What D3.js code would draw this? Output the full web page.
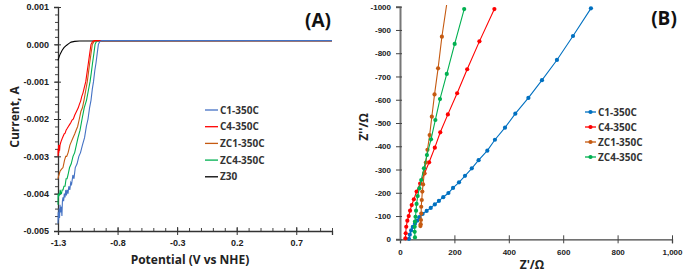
<!DOCTYPE html>
<html>
<head>
<meta charset="utf-8">
<script src="https://cdn.jsdelivr.net/npm/d3@7"></script>
<style>
  body { margin: 0; background: #fff; }
  svg { font-family: "Open Sans", "DejaVu Sans", sans-serif; }
  .tick text { font-weight: 700; fill: #222; }
</style>
</head>
<body>
<div id="chart"></div>
<script>
// ---- panel A: LSV (potential V vs NHE, current A) ----
const lsvNames = ["C1-350C", "C4-350C", "ZC1-350C", "ZC4-350C", "Z30"];
const lsvColors = ["#4472C4", "#FF0000", "#C55A11", "#00B050", "#000000"];

const lsvC1 = [[-1.3,-0.0048],[-1.298,-0.0045],[-1.295,-0.0047],[-1.291,-0.0044],[-1.287,-0.00465],[-1.283,-0.0043],[-1.279,-0.0045],
  [-1.275,-0.00435],[-1.271,-0.0044],[-1.267,-0.0046],[-1.263,-0.0042],[-1.258,-0.0041],[-1.253,-0.0042],[-1.247,-0.0040],[-1.241,-0.0041],
  [-1.235,-0.0039],[-1.229,-0.00405],[-1.223,-0.0039],[-1.216,-0.0040],[-1.209,-0.0038],[-1.201,-0.0039],[-1.193,-0.0037],[-1.186,-0.00375],
  [-1.175,-0.0035],[-1.166,-0.0036],[-1.155,-0.0033],[-1.14,-0.0032],[-1.125,-0.0030],[-1.111,-0.0029],[-1.095,-0.0027],[-1.077,-0.0025],
  [-1.062,-0.0022],[-1.048,-0.0020],[-1.035,-0.0017],[-1.023,-0.0015],[-1.012,-0.0012],[-1.002,-0.0010],[-0.991,-0.0007],[-0.981,-0.0005],
  [-0.971,-0.00025],[-0.961,0],[-0.95,0.00007],[-0.933,0.0001],[1.0,0.0001]];
const lsvC4 = [[-1.3,-0.0030],[-1.299,-0.0028],[-1.297,-0.00295],[-1.295,-0.0027],[-1.293,-0.0029],[-1.29,-0.0027],[-1.287,-0.00285],
  [-1.283,-0.0027],[-1.279,-0.00265],[-1.274,-0.0026],[-1.268,-0.00255],[-1.262,-0.0025],[-1.255,-0.00245],[-1.248,-0.0024],[-1.24,-0.00238],
  [-1.232,-0.0023],[-1.222,-0.00225],[-1.213,-0.0022],[-1.203,-0.00215],[-1.193,-0.0021],[-1.182,-0.00203],[-1.171,-0.0020],[-1.16,-0.0019],
  [-1.148,-0.00182],[-1.138,-0.00175],[-1.13,-0.0017],[-1.12,-0.0016],[-1.11,-0.00152],[-1.101,-0.0014],[-1.09,-0.0013],[-1.079,-0.00115],
  [-1.067,-0.0010],[-1.056,-0.00075],[-1.045,-0.0005],[-1.034,-0.00025],[-1.023,0],[-1.01,0.00007],[-0.995,0.0001],[1.0,0.0001]];
const lsvZC1 = [[-1.3,-0.0036],[-1.297,-0.00355],[-1.292,-0.0035],[-1.283,-0.0034],[-1.272,-0.00335],[-1.258,-0.0033],[-1.245,-0.0031],
  [-1.235,-0.0030],[-1.227,-0.0030],[-1.215,-0.0029],[-1.2,-0.0027],[-1.187,-0.0026],[-1.174,-0.0025],[-1.16,-0.0024],[-1.148,-0.0023],
  [-1.135,-0.0022],[-1.121,-0.0020],[-1.108,-0.0018],[-1.095,-0.0017],[-1.082,-0.0015],[-1.068,-0.00125],[-1.054,-0.0010],[-1.044,-0.00075],
  [-1.034,-0.0005],[-1.023,-0.00025],[-1.012,0],[-0.998,0.00007],[-0.983,0.0001],[1.0,0.0001]];
const lsvZC4 = [[-1.3,-0.0043],[-1.299,-0.0040],[-1.296,-0.0041],[-1.292,-0.0040],[-1.287,-0.00405],[-1.282,-0.0039],[-1.276,-0.0040],
  [-1.271,-0.0040],[-1.265,-0.0039],[-1.258,-0.0039],[-1.25,-0.0038],[-1.241,-0.0038],[-1.232,-0.0036],[-1.224,-0.0036],[-1.216,-0.0035],
  [-1.203,-0.0033],[-1.189,-0.0032],[-1.174,-0.0030],[-1.16,-0.0029],[-1.146,-0.0027],[-1.132,-0.0025],[-1.115,-0.0023],[-1.098,-0.0020],
  [-1.08,-0.0017],[-1.061,-0.0015],[-1.046,-0.00125],[-1.031,-0.0010],[-1.02,-0.00075],[-1.01,-0.0005],[-0.999,-0.00025],[-0.989,0],
  [-0.978,0.00007],[-0.966,0.0001],[1.0,0.0001]];
const lsvZ30 = [[-1.3,-0.00043],[-1.29,-0.00033],[-1.28,-0.00025],[-1.265,-0.00016],[-1.25,-0.00009],[-1.23,-0.00003],[-1.21,0.00002],
  [-1.19,0.00006],[-1.16,0.00008],[-1.12,0.00009],[1.0,0.0001]];
const lsvSeries = [lsvC1, lsvC4, lsvZC1, lsvZC4, lsvZ30];
const lsvXTicks = [-1.3, -0.8, -0.3, 0.2, 0.7];
const lsvYTicks = [0.001, 0, -0.001, -0.002, -0.003, -0.004, -0.005];

// ---- panel B: Nyquist (Z' ohm, Z'' ohm) ----
const eisNames = ["C1-350C", "C4-350C", "ZC1-350C", "ZC4-350C"];
const eisColors = ["#0070C0", "#FF0000", "#C55A11", "#00B050"];
const eisC1 = [[33,-2],[36,-20],[41,-38],[47,-53],[55,-67],[63,-80],[71,-95],[83,-109],[98,-122],[113,-135],[128,-150],[143,-165],
  [159,-181],[178,-199],[195,-221],[217,-245],[239,-273],[264,-305],[289,-340],[321,-381],[349,-428],[386,-480],[424,-540],
  [472,-608],[522,-684],[577,-771],[636,-874],[702,-993]];
const eisC4 = [[20,-4],[21,-26],[23,-54],[27,-80],[32,-100],[37,-123],[43,-147],[51,-172],[61,-205],[74,-240],[90,-283],[107,-331],
  [128,-394],[148,-460],[176,-537],[210,-628],[247,-731],[292,-851],[347,-990]];
const eisZC1 = [[75,-57],[76,-65],[77,-83],[78,-111],[78,-140],[80,-169],[82,-205],[85,-236],[89,-284],[95,-330],[101,-385],
  [109,-448],[117,-527],[127,-623],[140,-735],[154,-871],[178,-1060]];
const eisZC4 = [[55,-8],[54,-32],[54,-54],[55,-76],[57,-97],[59,-123],[61,-152],[65,-186],[71,-219],[78,-255],[88,-305],[99,-362],
  [114,-430],[130,-513],[147,-603],[172,-711],[201,-840],[236,-990]];
const eisSeries = [eisC1, eisC4, eisZC1, eisZC4];
const eisXTicks = [0, 200, 400, 600, 800, 1000];
const eisYTicks = [0, -100, -200, -300, -400, -500, -600, -700, -800, -900, -1000];

const width = 685, height = 276;
const svg = d3.select("#chart").append("svg")
  .attr("width", width).attr("height", height);

// ================= panel A =================
const xA = d3.scaleLinear().domain([-1.3, 1.0]).range([58, 332]);
const yA = d3.scaleLinear().domain([-0.005, 0.001]).range([231, 7]);

const gA = svg.append("g");

// minor ticks
gA.append("g").attr("transform", "translate(0,231)")
  .call(d3.axisBottom(xA).tickValues(d3.range(-13, 11).map(d => d / 10)).tickFormat("").tickSize(-3))
  .call(g => g.select(".domain").remove())
  .selectAll("line").attr("stroke", "#444");
gA.append("g").attr("transform", "translate(58,0)")
  .call(d3.axisLeft(yA).tickValues(d3.range(-25, 6).map(d => d / 5000)).tickFormat("").tickSize(3))
  .call(g => g.select(".domain").remove())
  .selectAll("line").attr("stroke", "#444");

const axA_x = gA.append("g").attr("transform", "translate(0,231)")
  .call(d3.axisBottom(xA).tickValues(lsvXTicks).tickFormat(d => d.toFixed(1)).tickSize(4).tickPadding(5));
axA_x.selectAll(".tick line").attr("y1", -4);
axA_x.selectAll("text").attr("font-size", 9);

const axA_y = gA.append("g").attr("transform", "translate(58,0)")
  .call(d3.axisLeft(yA).tickValues(lsvYTicks).tickFormat(d => d.toFixed(3)).tickSize(4).tickPadding(5));
axA_y.selectAll(".tick line").attr("x1", 3);
axA_y.selectAll("text").attr("font-size", 9);

[axA_x, axA_y].forEach(a => {
  a.select(".domain").attr("stroke", "#333").attr("stroke-width", 1.3);
  a.selectAll(".tick line").attr("stroke", "#333").attr("stroke-width", 1);
});

const lineA = d3.line().x(d => xA(d[0])).y(d => yA(d[1]));
gA.selectAll("path.lsv")
  .data(lsvSeries.slice().reverse())
  .join("path")
  .attr("class", "lsv")
  .attr("d", lineA)
  .attr("fill", "none")
  .attr("stroke", (d, i) => lsvColors[lsvSeries.length - 1 - i])
  .attr("stroke-width", 1.1);

// titles
gA.append("text").attr("x", 190).attr("y", 264).attr("text-anchor", "middle")
  .attr("font-size", 12).attr("font-weight", 700).attr("fill", "#222").text("Potential (V vs NHE)");
gA.append("text").attr("transform", "translate(19,117) rotate(-90)").attr("text-anchor", "middle")
  .attr("font-size", 12).attr("font-weight", 700).attr("fill", "#222").text("Current, A");
gA.append("text").attr("x", 318).attr("y", 27).attr("text-anchor", "middle")
  .attr("font-size", 19).attr("font-weight", 700).attr("fill", "#111").text("(A)");

// legend A
const legA = gA.append("g").attr("transform", "translate(205,110)");
lsvNames.forEach((n, i) => {
  const row = legA.append("g").attr("transform", `translate(0,${i * 16.7})`);
  row.append("line").attr("x1", 0).attr("x2", 13).attr("stroke", lsvColors[i]).attr("stroke-width", 1.3);
  row.append("text").attr("x", 15).attr("dy", "0.35em").attr("font-size", 10)
    .attr("font-weight", 700).attr("fill", "#333").text(n);
});

// ================= panel B =================
const xB = d3.scaleLinear().domain([0, 1000]).range([400, 672]);
const yB = d3.scaleLinear().domain([0, -1000]).range([239.3, 6.7]);

const gB = svg.append("g");

svg.append("clipPath").attr("id", "clipB")
  .append("rect").attr("x", 400).attr("y", 5).attr("width", 272).attr("height", 236);

const axB_x = gB.append("g").attr("transform", "translate(0,239.3)")
  .call(d3.axisBottom(xB).tickValues(eisXTicks).tickSize(4).tickPadding(6));
axB_x.selectAll(".tick line").attr("y1", -4);
axB_x.selectAll("text").attr("font-size", 8);
axB_x.select(".domain").attr("stroke", "#444").attr("stroke-width", 1.3);

const axB_y = gB.append("g").attr("transform", "translate(400,0)")
  .call(d3.axisLeft(yB).tickValues(eisYTicks).tickFormat(d => String(d)).tickSize(4).tickPadding(5));
axB_y.selectAll(".tick line").attr("x1", 2);
axB_y.selectAll("text").attr("font-size", 8);
axB_y.select(".domain").attr("stroke", "#777").attr("stroke-width", 2);
[axB_x, axB_y].forEach(a => a.selectAll(".tick line").attr("stroke", "#444").attr("stroke-width", 1));

const lineB = d3.line().x(d => xB(d[0])).y(d => yB(d[1]));
const series = gB.append("g").attr("clip-path", "url(#clipB)")
  .selectAll("g.eis")
  .data(eisSeries)
  .join("g")
  .attr("class", "eis");
series.append("path")
  .attr("d", lineB)
  .attr("fill", "none")
  .attr("stroke", (d, i) => eisColors[i])
  .attr("stroke-width", 1.1);
series.each(function(d, i) {
  d3.select(this).selectAll("circle")
    .data(d)
    .join("circle")
    .attr("cx", p => xB(p[0]))
    .attr("cy", p => yB(p[1]))
    .attr("r", 2.1)
    .attr("fill", eisColors[i]);
});

gB.append("text").attr("x", 532).attr("y", 269).attr("text-anchor", "middle")
  .attr("font-size", 12).attr("font-weight", 700).attr("fill", "#222").text("Z'/Ω");
gB.append("text").attr("transform", "translate(368,127) rotate(-90)").attr("text-anchor", "middle")
  .attr("font-size", 12).attr("font-weight", 700).attr("fill", "#222").text("Z''/Ω");
gB.append("text").attr("x", 664).attr("y", 25).attr("text-anchor", "middle")
  .attr("font-size", 19).attr("font-weight", 700).attr("fill", "#111").text("(B)");

// legend B
const legB = gB.append("g").attr("transform", "translate(585,112)");
eisNames.forEach((n, i) => {
  const row = legB.append("g").attr("transform", `translate(0,${i * 15})`);
  row.append("line").attr("x1", 0).attr("x2", 11).attr("stroke", eisColors[i]).attr("stroke-width", 1.3);
  row.append("circle").attr("cx", 5.5).attr("r", 2.1).attr("fill", eisColors[i]);
  row.append("text").attr("x", 13).attr("dy", "0.35em").attr("font-size", 10)
    .attr("font-weight", 700).attr("fill", "#333").text(n);
});
</script>
</body>
</html>
